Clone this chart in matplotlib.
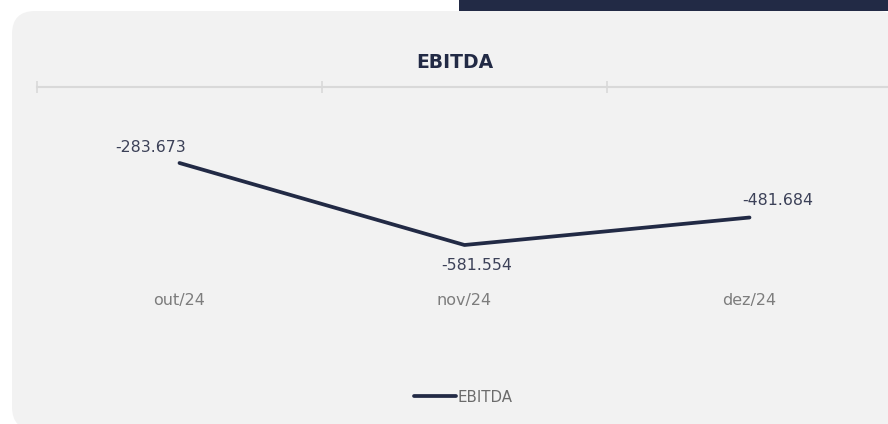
import matplotlib
matplotlib.use("Agg")
import matplotlib.pyplot as plt
from matplotlib.patches import FancyBboxPatch, Rectangle

# ---- data ----
categories = ["out/24", "nov/24", "dez/24"]
ebitda = [-283.673, -581.554, -481.684]
value_labels = ["-283.673", "-581.554", "-481.684"]
series_name = "EBITDA"
title = "EBITDA"

# ---- style ----
W, H = 888, 424
navy = "#222a45"
panel_color = "#f2f2f2"
label_offsets_px = [(-29, 16), (12, -20), (28, 17)]

plt.rcParams['font.family'] = ['DejaVu Sans']

fig = plt.figure(figsize=(W / 100, H / 100), dpi=100)
fig.patch.set_facecolor("white")

def fx(x):
    return x / W

def fy(y):
    return 1 - y / H

# panel
panel = FancyBboxPatch((fx(12), fy(430)), fx(900) - fx(12), fy(11) - fy(430),
                       boxstyle="round,pad=0,rounding_size=0.026",
                       transform=fig.transFigure, facecolor=panel_color,
                       edgecolor="none", mutation_aspect=W / H, zorder=0)
fig.patches.append(panel)
# dark bar top right
bar = Rectangle((fx(459), fy(11)), fx(900) - fx(459), fy(0) - fy(11) + 0.01,
                transform=fig.transFigure, facecolor=navy, edgecolor="none", zorder=1)
fig.patches.append(bar)

ax = fig.add_axes([fx(37), fy(290), fx(892) - fx(37), fy(87) - fy(290)])
ax.set_zorder(5)
ax.set_facecolor("none")
x = list(range(len(categories)))
line, = ax.plot(x, ebitda, color=navy, linewidth=2.7, solid_capstyle="round",
                label=series_name, zorder=3)
ax.set_xlim(-0.5, len(categories) - 0.5)
ax.set_ylim(-745, -7.6)

for xi, v, lab, (dx, dy) in zip(x, ebitda, value_labels, label_offsets_px):
    ax.annotate(lab, (xi, v), xytext=(dx * 0.72, dy * 0.72), textcoords="offset points",
                ha="center", va="center", fontsize=11.3, color="#3c4158")

for s in ["left", "right", "bottom"]:
    ax.spines[s].set_visible(False)
ax.spines["top"].set_color("#d9d9d9")
ax.spines["top"].set_linewidth(1.5)
ax.set_yticks([])
ax.set_xticks(x)
ax.set_xticklabels(categories)
ax.set_xticks([i - 0.5 for i in range(len(categories) + 1)], minor=True)
ax.tick_params(axis="x", which="major", length=0, pad=2, labelsize=11.5,
               labelcolor="#7d7d7d", top=False, bottom=True)
ax.tick_params(axis="x", which="minor", top=True, bottom=False, direction="inout",
               length=9, width=1.2, color="#d9d9d9")

fig.text(fx(455), fy(62), title, ha="center", va="center", fontsize=13.5,
         fontweight="bold", color=navy, zorder=6)

leg = fig.legend(handles=[line], loc="center", bbox_to_anchor=(fx(463), fy(397)),
                 frameon=False, fontsize=10.8, handlelength=2.8, handletextpad=0.1,
                 labelcolor="#6b6b6b")
leg.set_zorder(6)

fig.savefig("out.png", dpi=100, facecolor="white")
